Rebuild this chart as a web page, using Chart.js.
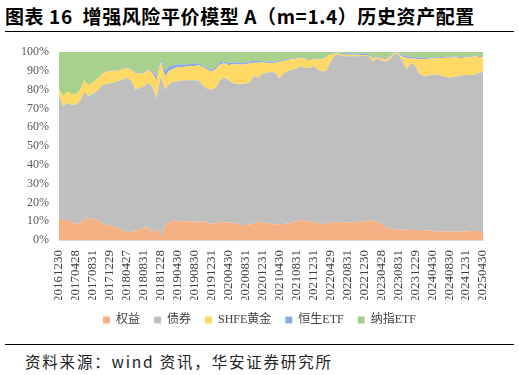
<!DOCTYPE html>
<html>
<head>
<meta charset="utf-8">
<script src="https://cdn.jsdelivr.net/npm/chart.js@4.4.1/dist/chart.umd.min.js"></script>
<style>
  body { margin: 0; background: #fff; width: 519px; height: 375px; position: relative; overflow: hidden; }
  #title { position: absolute; left: 5px; top: 2px; font: bold 19px "Noto Sans CJK SC", sans-serif; color: #000; letter-spacing: 0.6px; white-space: nowrap; }
  .rule { position: absolute; left: 5px; width: 509px; height: 1px; background: #000; }
  #source { position: absolute; left: 25px; top: 350px; font: 15.5px "Noto Sans CJK SC", sans-serif; color: #222; letter-spacing: 1.8px; white-space: nowrap; }
  #box { position: absolute; left: 0; top: 36px; width: 519px; height: 300px; }
</style>
</head>
<body>
<div id="title">图表 16&nbsp; 增强风险平价模型 A（m=1.4）历史资产配置</div>
<div class="rule" style="top:31px"></div>
<div id="box"><canvas id="AreaChart"></canvas></div>
<div class="rule" style="top:344px"></div>
<div id="source">资料来源：wind 资讯，华安证券研究所</div>
<script>
// 月度标签 201612 - 202504，坐标轴只显示每 4 个月一个
const tickLabels = ['20161230', '20170428', '20170831', '20171229', '20180427', '20180831',
    '20181228', '20190430', '20190830', '20191231', '20200430', '20200831', '20201231',
    '20210430', '20210831', '20211231', '20220429', '20220831', '20221230', '20230428',
    '20230831', '20231229', '20240430', '20240830', '20241231', '20250430'];

const months = [];
for (let y = 2016, m = 12; months.length < 101; m++) {
    if (m > 12) { m = 1; y++; }
    months.push(y + String(m).padStart(2, '0'));
}

// 权重 (%)
const equity = [11.9, 10.5, 10.8, 9.5, 8.6, 8.8, 11.8, 10.6, 11.4, 10.8,
    9.5, 8.2, 7.6, 7.2, 6.4, 5.0, 4.0, 4.2, 4.6, 5.6,
    6.5, 7.1, 3.8, 6.0, 2.2, 7.5, 9.5, 10.6, 10.2, 9.8,
    10.1, 9.8, 9.8, 9.8, 9.7, 9.3, 8.6, 8.8, 9.6, 9.4,
    9.3, 9.3, 8.6, 8.0, 8.0, 8.3, 8.9, 9.4, 9.6, 9.3,
    8.8, 8.4, 8.4, 8.5, 8.8, 9.5, 10.1, 10.7, 10.2, 10.0,
    9.6, 9.0, 8.4, 8.7, 9.2, 9.6, 9.6, 9.5, 9.3, 9.5,
    9.6, 9.7, 10.0, 10.4, 10.2, 9.7, 8.8, 7.0, 6.0, 5.8,
    5.7, 5.6, 5.4, 5.3, 5.3, 5.3, 5.2, 5.1, 4.8, 4.6,
    4.5, 4.5, 4.5, 4.5, 4.5, 4.5, 4.6, 4.8, 4.8, 4.8, 4.8];

const bond = [64.6, 60.5, 62.2, 62.5, 63.4, 65.2, 67.2, 65.9, 66.6, 68.2,
    72.5, 74.8, 75.6, 76.6, 78.2, 80.5, 82.3, 80.8, 75.4, 75.4,
    75.0, 76.4, 78.0, 69.5, 84.8, 72.5, 73.5, 73.4, 74.3, 75.0,
    74.9, 75.2, 75.2, 75.0, 72.3, 71.2, 71.4, 72.2, 75.4, 77.1,
    75.7, 74.2, 74.4, 75.1, 75.3, 75.5, 78.6, 76.6, 78.9, 79.7,
    80.5, 80.5, 77.6, 80.0, 81.2, 81.1, 81.0, 81.7, 81.3, 81.5,
    82.9, 81.5, 81.4, 81.1, 85.3, 88.6, 88.9, 88.3, 88.5, 88.3,
    88.2, 88.2, 87.9, 87.4, 84.6, 86.8, 86.7, 88.0, 90.0, 93.2,
    92.8, 89.9, 85.4, 88.9, 87.2, 83.0, 82.0, 82.4, 83.0, 83.6,
    83.1, 82.3, 81.9, 82.1, 82.7, 83.1, 83.2, 83.0, 83.0, 84.2, 84.5];

const gold = [3.5, 5.5, 6.0, 5.5, 5.5, 6.0, 6.0, 5.5, 6.0, 6.5,
    6.0, 6.3, 6.6, 6.2, 5.6, 5.5, 5.2, 5.5, 9.0, 7.5,
    7.0, 7.0, 7.2, 9.5, 8.0, 7.0, 7.0, 7.0, 7.5, 7.2,
    7.2, 7.5, 7.5, 8.2, 10.0, 10.0, 9.5, 10.0, 8.5, 7.5,
    8.0, 10.0, 10.5, 10.1, 10.2, 10.2, 6.8, 8.3, 6.0, 5.2,
    4.7, 5.4, 8.8, 6.7, 5.8, 5.6, 5.5, 4.5, 5.0, 3.7,
    4.1, 5.7, 6.2, 7.4, 4.0, 1.0, 0.8, 0.8, 0.8, 0.8,
    0.7, 0.5, 0.5, 0.5, 1.7, 1.0, 1.2, 1.2, 1.5, 0.5,
    0.7, 2.0, 6.0, 2.3, 3.9, 7.9, 9.0, 8.9, 8.8, 8.4,
    9.2, 10.2, 10.6, 10.6, 9.8, 9.2, 9.4, 9.6, 10.0, 8.5, 7.7];

const hangSeng = [0, 0, 0, 0, 0, 0, 0, 0, 0, 0,
    0.2, 0.2, 0.2, 0.2, 0.3, 0.3, 0.3, 0.5, 0.5, 0.5,
    0.5, 0.5, 1.0, 2.0, 1.5, 3.0, 2.5, 2.0, 1.5, 1.5,
    1.3, 1.3, 1.3, 1.0, 1.0, 1.0, 1.0, 1.0, 1.0, 1.0,
    1.0, 1.0, 1.0, 1.0, 1.0, 1.0, 1.0, 1.0, 0.7, 0.8,
    0.8, 0.7, 0.7, 0.6, 0.5, 0.4, 0.3, 0.3, 0.3, 0.3,
    0.2, 0.2, 0.2, 0.2, 0.2, 0.3, 0.3, 0.7, 0.7, 0.7,
    0.7, 0.8, 0.8, 0.7, 0.5, 0.5, 0.5, 0.5, 0.5, 0.3,
    0.4, 1.0, 1.0, 0.9, 0.8, 0.7, 0.7, 0.6, 0.5, 0.6,
    0.5, 0.5, 0.5, 0.4, 0.5, 0.5, 0.4, 0.4, 0.4, 0.5, 0.6];

const nasdaq = [20.0, 23.5, 21.0, 22.5, 22.5, 20.0, 15.0, 18.0, 16.0, 14.5,
    11.8, 10.5, 10.0, 9.8, 9.5, 8.7, 8.2, 9.0, 10.5, 11.0,
    11.0, 9.0, 10.0, 13.0, 3.5, 10.0, 7.5, 7.0, 6.5, 6.5,
    6.5, 6.2, 6.2, 6.0, 7.0, 8.5, 9.5, 8.0, 5.5, 5.0,
    6.0, 5.5, 5.5, 5.8, 5.5, 5.0, 4.7, 4.7, 4.8, 5.0,
    5.2, 5.0, 4.5, 4.2, 3.7, 3.4, 3.1, 2.8, 3.2, 4.5,
    3.2, 3.6, 3.8, 2.6, 1.3, 0.5, 0.4, 0.7, 0.7, 0.7,
    0.8, 0.8, 0.8, 1.0, 3.0, 2.0, 2.8, 3.3, 2.0, 0.2,
    0.4, 1.5, 2.2, 2.6, 2.8, 3.1, 3.1, 3.0, 2.9, 2.8,
    2.7, 2.5, 2.5, 2.4, 2.5, 2.7, 2.4, 2.2, 1.8, 2.0, 2.4];

function area(label, data, color, first) {
    return {
        label: label,
        data: data,
        backgroundColor: color,
        borderColor: color,
        borderWidth: 0,
        pointRadius: 0,
        fill: first ? 'origin' : '-1'
    };
}

const serif = '"Liberation Serif", "Times New Roman", serif';

new Chart(document.getElementById('AreaChart'), {
    type: 'line',
    data: {
        labels: months,
        datasets: [
            area('权益', equity, '#F4B183', true),
            area('债券', bond, '#BFBFBF'),
            area('SHFE黄金', gold, '#FFD966'),
            area('恒生ETF', hangSeng, '#8FAADC'),
            area('纳指ETF', nasdaq, '#A9D18E')
        ]
    },
    options: {
        responsive: true,
        maintainAspectRatio: false,
        animation: false,
        layout: { padding: { top: 16, right: 0, left: 0, bottom: 0 } },
        plugins: {
            tooltip: { enabled: false },
            legend: {
                position: 'bottom',
                labels: {
                    boxWidth: 7,
                    boxHeight: 7,
                    padding: 14,
                    color: '#404040',
                    font: { family: serif + ', "Noto Sans CJK SC"', size: 12 }
                }
            }
        },
        scales: {
            x: {
                grid: { display: false },
                border: { color: '#D9D9D9' },
                ticks: {
                    autoSkip: false,
                    maxRotation: 90,
                    minRotation: 90,
                    padding: 2,
                    color: '#404040',
                    font: { family: serif, size: 13 },
                    callback: (v, i) => (i % 4 === 0 ? tickLabels[i / 4] : null)
                },
                afterFit: (s) => { s.height = 60; }
            },
            y: {
                stacked: true,
                min: 0,
                max: 100,
                grid: { display: false },
                border: { display: false },
                ticks: {
                    stepSize: 10,
                    padding: 2,
                    color: '#595959',
                    font: { family: serif, size: 12 },
                    callback: (v) => v + '%'
                },
                afterFit: (s) => { s.width = 59; }
            },
            // 右侧留白
            yRight: {
                position: 'right',
                grid: { display: false },
                border: { display: false },
                ticks: { display: false },
                afterFit: (s) => { s.width = 36; }
            }
        }
    }
});
</script>
</body>
</html>
